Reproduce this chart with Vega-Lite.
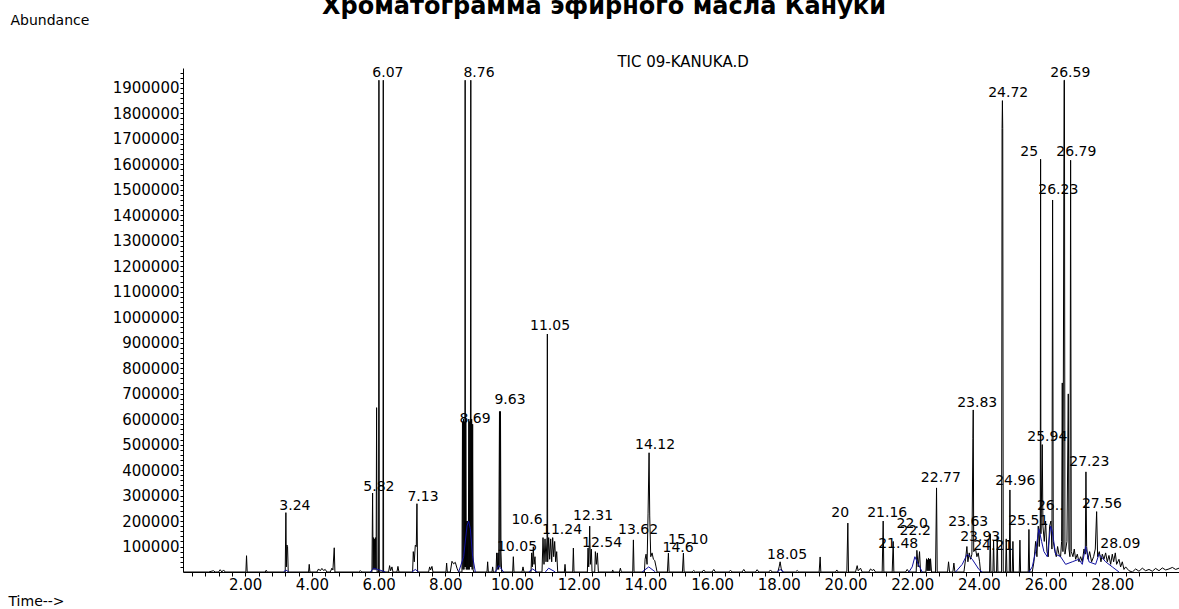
{
  "$schema": "https://vega.github.io/schema/vega-lite/v6.json",
  "width": 996,
  "height": 504,
  "autosize": {"type": "none"},
  "padding": {"left": 183, "top": 68, "right": 0, "bottom": 37},
  "background": "white",
  "title": {
    "text": "Хроматограмма эфирного масла Кануки",
    "font": "DejaVu Sans",
    "fontSize": 24,
    "fontWeight": "bold",
    "color": "black",
    "anchor": "middle",
    "frame": "group",
    "dx": -77,
    "dy": 25,
    "offset": 0,
    "baseline": "alphabetic"
  },
  "config": {
    "view": {"stroke": null},
    "axis": {"grid": false, "domainColor": "black", "tickColor": "black", "labelColor": "black", "titleColor": "black"}
  },
  "datasets": {
    "tic": [
      {"t":0.135,"v":0},{"t":0.9,"v":0},{"t":1.05,"v":5000},{"t":1.1,"v":0},{"t":1.2,"v":0},{"t":1.25,"v":9000},{"t":1.3,"v":0},{"t":1.35,"v":8000},{"t":1.4,"v":0},
      {"t":2.02,"v":0},{"t":2.04,"v":64000},{"t":2.06,"v":0},
      {"t":2.6,"v":0},{"t":2.63,"v":7000},{"t":2.66,"v":0},
      {"t":3.2,"v":0},{"t":3.22,"v":233000},{"t":3.235,"v":20000},{"t":3.25,"v":106000},{"t":3.27,"v":100000},{"t":3.29,"v":0},
      {"t":3.9,"v":0},{"t":3.92,"v":30000},{"t":3.94,"v":0},
      {"t":4.15,"v":0},{"t":4.2,"v":12000},{"t":4.25,"v":5000},{"t":4.3,"v":14000},{"t":4.35,"v":6000},{"t":4.4,"v":10000},{"t":4.45,"v":0},
      {"t":4.55,"v":0},{"t":4.6,"v":15000},{"t":4.63,"v":8000},{"t":4.67,"v":95000},{"t":4.69,"v":0},
      {"t":5.4,"v":0},{"t":5.45,"v":5000},{"t":5.5,"v":0},
      {"t":5.8,"v":0},{"t":5.82,"v":310000},{"t":5.835,"v":10000},{"t":5.85,"v":135000},{"t":5.865,"v":10000},{"t":5.88,"v":130000},{"t":5.895,"v":10000},{"t":5.91,"v":135000},{"t":5.925,"v":10000},{"t":5.94,"v":645000},{"t":5.955,"v":0},
      {"t":6.0,"v":0},{"t":6.01,"v":1930000},{"t":6.02,"v":0},{"t":6.13,"v":0},{"t":6.14,"v":1930000},{"t":6.15,"v":0},
      {"t":6.3,"v":0},{"t":6.33,"v":25000},{"t":6.36,"v":5000},{"t":6.4,"v":20000},{"t":6.43,"v":0},{"t":6.55,"v":0},{"t":6.58,"v":22000},{"t":6.61,"v":0},
      {"t":7.02,"v":0},{"t":7.04,"v":80000},{"t":7.07,"v":40000},{"t":7.1,"v":105000},{"t":7.13,"v":100000},{"t":7.15,"v":268000},{"t":7.17,"v":0},
      {"t":7.5,"v":0},{"t":7.53,"v":20000},{"t":7.56,"v":8000},{"t":7.6,"v":22000},{"t":7.63,"v":0},
      {"t":8.02,"v":0},{"t":8.04,"v":35000},{"t":8.06,"v":0},{"t":8.15,"v":0},{"t":8.2,"v":42000},{"t":8.25,"v":32000},{"t":8.3,"v":38000},{"t":8.35,"v":15000},{"t":8.4,"v":0},
      {"t":8.5,"v":0},{"t":8.515,"v":590000},{"t":8.53,"v":10000},{"t":8.545,"v":600000},{"t":8.56,"v":10000},{"t":8.575,"v":590000},{"t":8.585,"v":20000},{"t":8.595,"v":1930000},{"t":8.605,"v":20000},{"t":8.615,"v":600000},{"t":8.63,"v":10000},{"t":8.645,"v":200000},{"t":8.66,"v":10000},{"t":8.675,"v":200000},{"t":8.69,"v":10000},{"t":8.705,"v":600000},{"t":8.72,"v":10000},{"t":8.735,"v":590000},{"t":8.75,"v":20000},{"t":8.765,"v":1930000},{"t":8.775,"v":20000},{"t":8.79,"v":600000},{"t":8.805,"v":10000},{"t":8.82,"v":580000},{"t":8.835,"v":10000},{"t":8.85,"v":0},
      {"t":9.25,"v":0},{"t":9.27,"v":40000},{"t":9.29,"v":0},
      {"t":9.4,"v":0},{"t":9.42,"v":20000},{"t":9.44,"v":0},
      {"t":9.52,"v":0},{"t":9.54,"v":75000},{"t":9.56,"v":10000},{"t":9.58,"v":75000},{"t":9.6,"v":10000},{"t":9.625,"v":630000},{"t":9.64,"v":20000},{"t":9.655,"v":630000},{"t":9.67,"v":75000},{"t":9.69,"v":0},
      {"t":10.02,"v":0},{"t":10.04,"v":60000},{"t":10.06,"v":0},
      {"t":10.3,"v":0},{"t":10.33,"v":20000},{"t":10.36,"v":0},
      {"t":10.57,"v":0},{"t":10.59,"v":75000},{"t":10.61,"v":20000},{"t":10.64,"v":99000},{"t":10.66,"v":30000},{"t":10.69,"v":60000},{"t":10.71,"v":0},
      {"t":10.9,"v":0},{"t":10.93,"v":135000},{"t":10.96,"v":30000},{"t":10.99,"v":130000},{"t":11.02,"v":40000},{"t":11.05,"v":135000},{"t":11.06,"v":934000},{"t":11.07,"v":40000},{"t":11.1,"v":135000},{"t":11.13,"v":50000},{"t":11.16,"v":130000},{"t":11.19,"v":40000},{"t":11.22,"v":135000},{"t":11.25,"v":60000},{"t":11.28,"v":120000},{"t":11.31,"v":40000},{"t":11.34,"v":80000},{"t":11.37,"v":0},
      {"t":11.57,"v":0},{"t":11.59,"v":30000},{"t":11.61,"v":0},
      {"t":11.82,"v":0},{"t":11.84,"v":94000},{"t":11.86,"v":0},
      {"t":12.26,"v":0},{"t":12.28,"v":94000},{"t":12.3,"v":20000},{"t":12.33,"v":180000},{"t":12.35,"v":30000},{"t":12.38,"v":90000},{"t":12.4,"v":0},
      {"t":12.48,"v":0},{"t":12.5,"v":80000},{"t":12.53,"v":30000},{"t":12.56,"v":75000},{"t":12.59,"v":0},
      {"t":13.0,"v":0},{"t":13.02,"v":8000},{"t":13.04,"v":0},
      {"t":13.22,"v":0},{"t":13.25,"v":15000},{"t":13.28,"v":0},
      {"t":13.62,"v":0},{"t":13.64,"v":126000},{"t":13.66,"v":0},
      {"t":13.97,"v":0},{"t":13.99,"v":50000},{"t":14.02,"v":70000},{"t":14.05,"v":30000},{"t":14.08,"v":231000},{"t":14.11,"v":468000},{"t":14.13,"v":220000},{"t":14.16,"v":60000},{"t":14.2,"v":75000},{"t":14.24,"v":50000},{"t":14.28,"v":45000},{"t":14.32,"v":20000},{"t":14.35,"v":0},
      {"t":14.66,"v":0},{"t":14.69,"v":74000},{"t":14.71,"v":0},
      {"t":15.11,"v":0},{"t":15.14,"v":74000},{"t":15.16,"v":0},
      {"t":15.4,"v":0},{"t":15.45,"v":6000},{"t":15.5,"v":0},{"t":15.7,"v":0},{"t":15.75,"v":8000},{"t":15.8,"v":0},{"t":16.0,"v":0},{"t":16.05,"v":10000},{"t":16.1,"v":0},{"t":16.5,"v":0},{"t":16.55,"v":7000},{"t":16.6,"v":0},{"t":16.9,"v":0},{"t":16.95,"v":10000},{"t":17.0,"v":0},{"t":17.3,"v":0},{"t":17.35,"v":9000},{"t":17.4,"v":0},{"t":17.7,"v":0},{"t":17.75,"v":8000},{"t":17.8,"v":0},
      {"t":17.97,"v":0},{"t":18.01,"v":20000},{"t":18.04,"v":40000},{"t":18.07,"v":15000},{"t":18.11,"v":0},
      {"t":18.5,"v":0},{"t":18.55,"v":6000},{"t":18.6,"v":0},
      {"t":19.21,"v":0},{"t":19.24,"v":59000},{"t":19.26,"v":0},
      {"t":19.7,"v":0},{"t":19.74,"v":8000},{"t":19.78,"v":0},
      {"t":20.04,"v":0},{"t":20.07,"v":192000},{"t":20.09,"v":0},
      {"t":20.3,"v":0},{"t":20.35,"v":25000},{"t":20.38,"v":5000},{"t":20.45,"v":15000},{"t":20.5,"v":0},{"t":20.7,"v":0},{"t":20.75,"v":12000},{"t":20.8,"v":6000},{"t":20.85,"v":10000},{"t":20.9,"v":0},
      {"t":21.1,"v":0},{"t":21.13,"v":200000},{"t":21.15,"v":0},
      {"t":21.4,"v":0},{"t":21.43,"v":120000},{"t":21.45,"v":0},
      {"t":21.8,"v":0},{"t":21.85,"v":10000},{"t":21.9,"v":0},
      {"t":22.12,"v":0},{"t":22.14,"v":85000},{"t":22.18,"v":20000},{"t":22.22,"v":80000},{"t":22.25,"v":0},
      {"t":22.41,"v":0},{"t":22.43,"v":52000},{"t":22.445,"v":5000},{"t":22.46,"v":48000},{"t":22.475,"v":5000},{"t":22.49,"v":55000},{"t":22.505,"v":5000},{"t":22.52,"v":50000},{"t":22.535,"v":5000},{"t":22.55,"v":52000},{"t":22.58,"v":0},
      {"t":22.7,"v":0},{"t":22.73,"v":330000},{"t":22.75,"v":0},
      {"t":23.06,"v":0},{"t":23.09,"v":40000},{"t":23.12,"v":0},{"t":23.22,"v":0},{"t":23.25,"v":35000},{"t":23.28,"v":0},
      {"t":23.55,"v":0},{"t":23.6,"v":50000},{"t":23.64,"v":100000},{"t":23.67,"v":40000},{"t":23.71,"v":75000},{"t":23.75,"v":50000},{"t":23.79,"v":70000},{"t":23.82,"v":524000},{"t":23.83,"v":636000},{"t":23.845,"v":80000},{"t":23.9,"v":90000},{"t":23.94,"v":60000},{"t":23.98,"v":75000},{"t":24.02,"v":40000},{"t":24.05,"v":0},
      {"t":24.32,"v":0},{"t":24.34,"v":150000},{"t":24.36,"v":0},{"t":24.42,"v":0},{"t":24.44,"v":125000},{"t":24.46,"v":0},{"t":24.53,"v":0},{"t":24.55,"v":140000},{"t":24.57,"v":0},
      {"t":24.68,"v":0},{"t":24.695,"v":1740000},{"t":24.705,"v":1850000},{"t":24.715,"v":1740000},{"t":24.73,"v":0},
      {"t":24.8,"v":0},{"t":24.82,"v":130000},{"t":24.84,"v":0},
      {"t":24.91,"v":0},{"t":24.93,"v":322000},{"t":24.95,"v":0},
      {"t":25.0,"v":0},{"t":25.02,"v":120000},{"t":25.04,"v":0},
      {"t":25.21,"v":0},{"t":25.23,"v":125000},{"t":25.25,"v":0},
      {"t":25.48,"v":0},{"t":25.5,"v":167000},{"t":25.52,"v":0},
      {"t":25.6,"v":0},{"t":25.65,"v":40000},{"t":25.7,"v":120000},{"t":25.74,"v":60000},{"t":25.78,"v":180000},{"t":25.81,"v":100000},{"t":25.84,"v":190000},{"t":25.85,"v":1620000},{"t":25.86,"v":150000},{"t":25.9,"v":500000},{"t":25.92,"v":180000},{"t":25.96,"v":120000},{"t":26.0,"v":200000},{"t":26.04,"v":80000},{"t":26.08,"v":60000},{"t":26.12,"v":180000},{"t":26.16,"v":200000},{"t":26.19,"v":90000},{"t":26.21,"v":1460000},{"t":26.23,"v":120000},{"t":26.28,"v":80000},{"t":26.32,"v":60000},{"t":26.36,"v":100000},{"t":26.4,"v":70000},{"t":26.45,"v":60000},{"t":26.48,"v":120000},{"t":26.5,"v":742000},{"t":26.52,"v":80000},{"t":26.555,"v":1930000},{"t":26.565,"v":1930000},{"t":26.58,"v":70000},{"t":26.64,"v":120000},{"t":26.68,"v":699000},{"t":26.7,"v":90000},{"t":26.73,"v":60000},{"t":26.75,"v":1616000},{"t":26.77,"v":80000},{"t":26.82,"v":60000},{"t":26.86,"v":90000},{"t":26.9,"v":50000},{"t":26.95,"v":70000},{"t":27.0,"v":40000},
      {"t":27.05,"v":60000},{"t":27.1,"v":40000},{"t":27.15,"v":90000},{"t":27.19,"v":70000},{"t":27.21,"v":393000},{"t":27.23,"v":100000},{"t":27.27,"v":50000},{"t":27.32,"v":80000},{"t":27.38,"v":40000},{"t":27.44,"v":60000},{"t":27.49,"v":90000},{"t":27.53,"v":237000},{"t":27.56,"v":60000},{"t":27.61,"v":80000},{"t":27.66,"v":40000},{"t":27.7,"v":70000},{"t":27.75,"v":50000},{"t":27.8,"v":75000},{"t":27.85,"v":40000},{"t":27.9,"v":65000},{"t":27.95,"v":30000},{"t":28.0,"v":70000},{"t":28.04,"v":40000},{"t":28.09,"v":75000},{"t":28.13,"v":30000},{"t":28.2,"v":50000},{"t":28.25,"v":20000},{"t":28.3,"v":40000},{"t":28.35,"v":10000},{"t":28.4,"v":20000},{"t":28.5,"v":5000},{"t":28.6,"v":0},{"t":28.7,"v":12000},{"t":28.8,"v":3000},{"t":28.9,"v":15000},{"t":29.0,"v":5000},{"t":29.1,"v":10000},{"t":29.2,"v":3000},{"t":29.3,"v":14000},{"t":29.4,"v":5000},{"t":29.5,"v":16000},{"t":29.6,"v":8000},{"t":29.7,"v":12000},{"t":29.8,"v":18000},{"t":29.9,"v":10000},{"t":30.0,"v":15000}
    ],
    "blue": [
      {"g":1,"t":3.15,"v":0},{"g":1,"t":3.22,"v":8000},{"g":1,"t":3.3,"v":0},
      {"g":2,"t":5.75,"v":0},{"g":2,"t":5.85,"v":15000},{"g":2,"t":6.1,"v":5000},{"g":2,"t":6.2,"v":0},
      {"g":3,"t":7.0,"v":0},{"g":3,"t":7.1,"v":10000},{"g":3,"t":7.2,"v":0},
      {"g":4,"t":8.4,"v":0},{"g":4,"t":8.55,"v":60000},{"g":4,"t":8.65,"v":180000},{"g":4,"t":8.7,"v":200000},{"g":4,"t":8.75,"v":170000},{"g":4,"t":8.82,"v":60000},{"g":4,"t":8.9,"v":0},
      {"g":5,"t":9.5,"v":0},{"g":5,"t":9.6,"v":25000},{"g":5,"t":9.75,"v":0},
      {"g":6,"t":10.5,"v":0},{"g":6,"t":10.62,"v":12000},{"g":6,"t":10.75,"v":0},
      {"g":7,"t":11.0,"v":0},{"g":7,"t":11.1,"v":15000},{"g":7,"t":11.3,"v":0},
      {"g":8,"t":13.9,"v":0},{"g":8,"t":14.1,"v":20000},{"g":8,"t":14.3,"v":0},
      {"g":9,"t":17.95,"v":0},{"g":9,"t":18.04,"v":10000},{"g":9,"t":18.15,"v":0},
      {"g":10,"t":21.9,"v":0},{"g":10,"t":22.0,"v":20000},{"g":10,"t":22.08,"v":60000},{"g":10,"t":22.15,"v":40000},{"g":10,"t":22.3,"v":0},
      {"g":11,"t":23.3,"v":0},{"g":11,"t":23.5,"v":30000},{"g":11,"t":23.65,"v":70000},{"g":11,"t":23.8,"v":50000},{"g":11,"t":24.0,"v":10000},{"g":11,"t":24.1,"v":0},
      {"g":12,"t":25.5,"v":0},{"g":12,"t":25.6,"v":20000},{"g":12,"t":25.7,"v":80000},{"g":12,"t":25.8,"v":170000},{"g":12,"t":25.88,"v":120000},{"g":12,"t":25.95,"v":80000},{"g":12,"t":26.05,"v":60000},{"g":12,"t":26.15,"v":180000},{"g":12,"t":26.2,"v":160000},{"g":12,"t":26.3,"v":70000},{"g":12,"t":26.45,"v":60000},{"g":12,"t":26.6,"v":30000},{"g":12,"t":26.8,"v":40000},{"g":12,"t":27.0,"v":50000},{"g":12,"t":27.1,"v":30000},{"g":12,"t":27.2,"v":100000},{"g":12,"t":27.3,"v":40000},{"g":12,"t":27.5,"v":30000},{"g":12,"t":27.6,"v":70000},{"g":12,"t":27.8,"v":40000},{"g":12,"t":28.0,"v":20000},{"g":12,"t":28.2,"v":0}
    ],
    "labels": [
      {"t":6.28,"v":1959000,"txt":"6.07"},
      {"t":9.01,"v":1959000,"txt":"8.76"},
      {"t":26.74,"v":1959000,"txt":"26.59"},
      {"t":24.88,"v":1879000,"txt":"24.72"},
      {"t":25.51,"v":1650000,"txt":"25"},
      {"t":26.92,"v":1650000,"txt":"26.79"},
      {"t":26.38,"v":1500000,"txt":"26.23"},
      {"t":11.14,"v":966000,"txt":"11.05"},
      {"t":9.94,"v":675000,"txt":"9.63"},
      {"t":8.89,"v":601000,"txt":"8.69"},
      {"t":23.95,"v":663000,"txt":"23.83"},
      {"t":26.05,"v":530000,"txt":"25.94"},
      {"t":14.29,"v":499000,"txt":"14.12"},
      {"t":27.31,"v":430000,"txt":"27.23"},
      {"t":22.86,"v":369000,"txt":"22.77"},
      {"t":25.09,"v":357000,"txt":"24.96"},
      {"t":6.01,"v":334000,"txt":"5.82"},
      {"t":7.33,"v":294000,"txt":"7.13"},
      {"t":3.49,"v":259000,"txt":"3.24"},
      {"t":26.14,"v":259000,"txt":"26.."},
      {"t":27.69,"v":265000,"txt":"27.56"},
      {"t":19.84,"v":232000,"txt":"20"},
      {"t":21.25,"v":232000,"txt":"21.16"},
      {"t":12.43,"v":220000,"txt":"12.31"},
      {"t":10.45,"v":204000,"txt":"10.6"},
      {"t":23.68,"v":196000,"txt":"23.63"},
      {"t":25.48,"v":200000,"txt":"25.51"},
      {"t":22.0,"v":188000,"txt":"22.0"},
      {"t":11.5,"v":165000,"txt":"11.24"},
      {"t":13.78,"v":165000,"txt":"13.62"},
      {"t":22.09,"v":161000,"txt":"22.2"},
      {"t":24.04,"v":137000,"txt":"23.93"},
      {"t":15.28,"v":126000,"txt":"15.10"},
      {"t":12.7,"v":114000,"txt":"12.54"},
      {"t":21.58,"v":110000,"txt":"21.48"},
      {"t":24.43,"v":104000,"txt":"24.21"},
      {"t":28.24,"v":110000,"txt":"28.09"},
      {"t":10.15,"v":98000,"txt":"10.05"},
      {"t":14.98,"v":94000,"txt":"14.6"},
      {"t":18.25,"v":67000,"txt":"18.05"}
    ],
    "header": [
      {"t":15.13,"v":2002000,"txt":"TIC 09-KANUKA.D"}
    ]
  },
  "encoding": {
    "x": {
      "field": "t",
      "type": "quantitative",
      "scale": {"domain": [0.135, 30.0], "nice": false, "zero": false},
      "axis": {
        "values": [0.4,0.8,1.2,1.6,2,2.4,2.8,3.2,3.6,4,4.4,4.8,5.2,5.6,6,6.4,6.8,7.2,7.6,8,8.4,8.8,9.2,9.6,10,10.4,10.8,11.2,11.6,12,12.4,12.8,13.2,13.6,14,14.4,14.8,15.2,15.6,16,16.4,16.8,17.2,17.6,18,18.4,18.8,19.2,19.6,20,20.4,20.8,21.2,21.6,22,22.4,22.8,23.2,23.6,24,24.4,24.8,25.2,25.6,26,26.4,26.8,27.2,27.6,28,28.4,28.8,29.2,29.6],
        "labelExpr": "abs(datum.value/2 - round(datum.value/2)) < 0.01 ? format(datum.value, '.2f') : ''",
        "labelOverlap": false,
        "labelFlush": false,
        "labelFont": "DejaVu Sans",
        "labelFontSize": 15,
        "labelPadding": 1,
        "tickSize": 4,
        "title": "Time-->",
        "titleFont": "DejaVu Sans",
        "titleFontSize": 14,
        "titleFontWeight": "normal",
        "titleAlign": "left",
        "titleBaseline": "middle",
        "titleX": -175,
        "titleY": 29
      }
    },
    "y": {
      "field": "v",
      "type": "quantitative",
      "scale": {"domain": [0, 1978000], "nice": false, "zero": true},
      "axis": {
        "values": [20000,40000,60000,80000,100000,120000,140000,160000,180000,200000,220000,240000,260000,280000,300000,320000,340000,360000,380000,400000,420000,440000,460000,480000,500000,520000,540000,560000,580000,600000,620000,640000,660000,680000,700000,720000,740000,760000,780000,800000,820000,840000,860000,880000,900000,920000,940000,960000,980000,1000000,1020000,1040000,1060000,1080000,1100000,1120000,1140000,1160000,1180000,1200000,1220000,1240000,1260000,1280000,1300000,1320000,1340000,1360000,1380000,1400000,1420000,1440000,1460000,1480000,1500000,1520000,1540000,1560000,1580000,1600000,1620000,1640000,1660000,1680000,1700000,1720000,1740000,1760000,1780000,1800000,1820000,1840000,1860000,1880000,1900000,1920000,1940000,1960000],
        "labelExpr": "round(datum.value/20000) % 5 == 0 ? format(datum.value, 'd') : ''",
        "labelOverlap": false,
        "labelFlush": false,
        "labelFont": "DejaVu Sans",
        "labelFontSize": 15,
        "labelPadding": 1,
        "tickSize": 3,
        "title": "Abundance",
        "titleFont": "DejaVu Sans",
        "titleFontSize": 14,
        "titleFontWeight": "normal",
        "titleAngle": 0,
        "titleAlign": "left",
        "titleBaseline": "middle",
        "titleX": -173,
        "titleY": -48
      }
    }
  },
  "layer": [
    {
      "data": {"name": "tic"},
      "mark": {"type": "line", "color": "black", "strokeWidth": 1, "strokeJoin": "bevel", "clip": true}
    },
    {
      "data": {"name": "blue"},
      "mark": {"type": "line", "color": "#1010a0", "strokeWidth": 1, "clip": true},
      "encoding": {"detail": {"field": "g", "type": "nominal"}}
    },
    {
      "data": {"name": "labels"},
      "mark": {"type": "text", "font": "DejaVu Sans", "fontSize": 14, "color": "black", "align": "center", "baseline": "middle"},
      "encoding": {"text": {"field": "txt", "type": "nominal"}}
    },
    {
      "data": {"name": "header"},
      "mark": {"type": "text", "font": "DejaVu Sans", "fontSize": 15, "color": "black", "align": "center", "baseline": "middle"},
      "encoding": {"text": {"field": "txt", "type": "nominal"}}
    }
  ]
}
